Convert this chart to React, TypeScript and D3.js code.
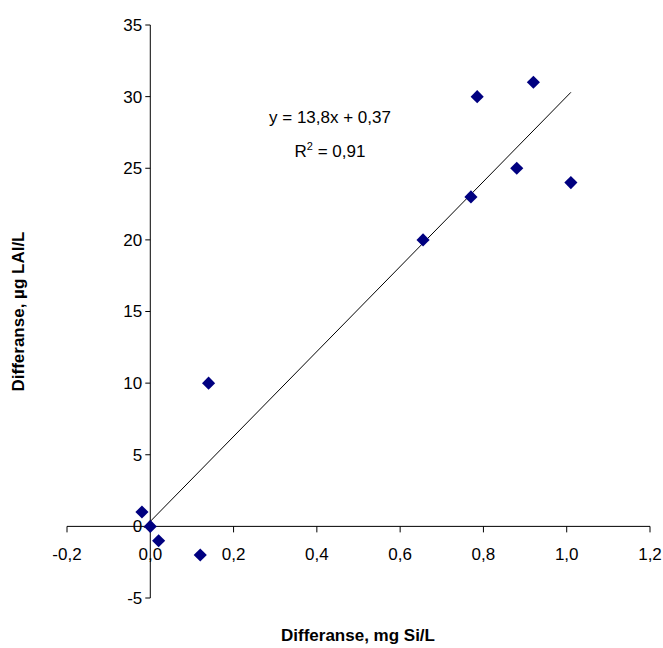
import React from "react";
import * as d3 from "d3";

const xs = [-0.02, 0.0, 0.02, 0.12, 0.14, 0.655, 0.77, 0.785, 0.88, 0.92, 1.01];
const ys = [1, 0, -1, -2, 10, 20, 23, 30, 25, 31, 24];
const xTicks = [-0.2, 0, 0.2, 0.4, 0.6, 0.8, 1.0, 1.2];
const yTicks = [-5, 0, 5, 10, 15, 20, 25, 30, 35];
// trend line endpoints as drawn in the chart
const lineX = [-0.015, 1.01];
const lineY = [-0.1, 30.3];

const fmt = (v: number) => d3.format(".1f")(v).replace(".", ",").replace("−", "-");

export default function App() {
  const x = d3.scaleLinear().domain([-0.2, 1.2]).range([67, 650]);
  const y = d3.scaleLinear().domain([-5, 35]).range([598, 25]);
  const font = "Liberation Sans, Arial, sans-serif";
  const diamond = d3.symbol().type(d3.symbolDiamond2).size(110)();
  return (
    <svg width={663} height={648} style={{ position: "absolute", left: 0, top: 0 }} fontFamily={font}>
      <rect width={663} height={648} fill="#fff" />
      <line x1={x(0)} x2={x(0)} y1={y(35)} y2={y(-5)} stroke="#000" />
      {yTicks.map((t) => (
        <g key={t}>
          <line x1={x(0) - 5} x2={x(0)} y1={y(t)} y2={y(t)} stroke="#000" />
          <text x={x(0) - 8} y={y(t)} dy="0.35em" textAnchor="end" fontSize={17}>{String(t)}</text>
        </g>
      ))}
      <line x1={x(-0.2)} x2={x(1.2)} y1={y(0)} y2={y(0)} stroke="#000" />
      {xTicks.map((t) => (
        <g key={t}>
          <line x1={x(t)} x2={x(t)} y1={y(0)} y2={y(0) + 6} stroke="#000" />
          <text x={x(t)} y={y(0) + 34} textAnchor="middle" fontSize={17}>{fmt(t)}</text>
        </g>
      ))}
      <line x1={x(lineX[0])} y1={y(lineY[0])} x2={x(lineX[1])} y2={y(lineY[1])} stroke="#000" strokeWidth={1} />
      {xs.map((v, i) => (
        <path key={i} d={diamond!} transform={`translate(${x(v)},${y(ys[i])})`} fill="#000080" />
      ))}
      <text x={330} y={123} textAnchor="middle" fontSize={17}>y = 13,8x + 0,37</text>
      <text x={330} y={157} textAnchor="middle" fontSize={17}>
        R<tspan dy={-7} fontSize={11}>2</tspan><tspan dy={7}> = 0,91</tspan>
      </text>
      <text x={358} y={641} textAnchor="middle" fontSize={17} fontWeight="bold">Differanse, mg Si/L</text>
      <text transform={`translate(24,${y(15)}) rotate(-90)`} textAnchor="middle" fontSize={17} fontWeight="bold">Differanse, µg LAI/L</text>
    </svg>
  );
}
